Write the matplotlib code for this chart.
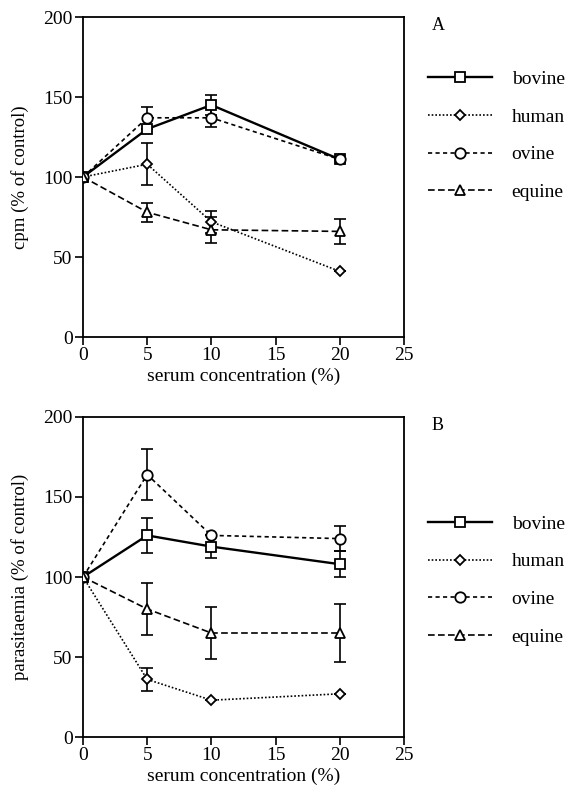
import matplotlib
matplotlib.use("Agg")
import matplotlib.pyplot as plt
import numpy as np

plt.rcParams['font.family'] = ['Liberation Serif', 'DejaVu Serif']

conc = [0, 5, 10, 20]
series = ["bovine", "human", "ovine", "equine"]

# Panel A: cpm (% of control)
a_bovine = [100, 130, 145, 111]
a_bovine_err = [0, 0, 6, 0]
a_human = [100, 108, 72, 41]
a_human_err = [0, 13, 7, 0]
a_ovine = [100, 137, 137, 111]
a_ovine_err = [0, 7, 6, 0]
a_equine = [100, 78, 67, 66]
a_equine_err = [0, 6, 8, 8]

# Panel B: parasitaemia (% of control)
b_bovine = [100, 126, 119, 108]
b_bovine_err = [0, 11, 7, 8]
b_human = [100, 36, 23, 27]
b_human_err = [0, 7, 0, 0]
b_ovine = [100, 164, 126, 124]
b_ovine_err = [0, 16, 0, 8]
b_equine = [100, 80, 65, 65]
b_equine_err = [0, 16, 16, 18]

xticks = [0, 5, 10, 15, 20, 25]
yticks = [0, 50, 100, 150, 200]

styles = {
    "bovine": dict(ls='-', marker='s', ms=7, dashes=None),
    "human": dict(ls=':', marker='D', ms=5, dashes=(1, 1.2)),
    "ovine": dict(ls='--', marker='o', ms=7.5, dashes=(2.5, 2)),
    "equine": dict(ls='--', marker='^', ms=7, dashes=(4, 2)),
}

fig = plt.figure(figsize=(5.66, 7.97), dpi=100)
W, H = 566, 797
axA = fig.add_axes([83 / W, 1 - 337 / H, 321 / W, 320 / H])
axB = fig.add_axes([83 / W, 1 - 737 / H, 321 / W, 320 / H])

panels = [
    (axA, [a_bovine, a_human, a_ovine, a_equine],
     [a_bovine_err, a_human_err, a_ovine_err, a_equine_err],
     "cpm (% of control)", "A", 0.834),
    (axB, [b_bovine, b_human, b_ovine, b_equine],
     [b_bovine_err, b_human_err, b_ovine_err, b_equine_err],
     "parasitaemia (% of control)", "B", 0.694),
]

fs = 14
for ax, vals, errs, ylabel, letter, ly in panels:
    handles = []
    for name, v, e in zip(series, vals, errs):
        st = styles[name]
        lw = 1.7 if name == "bovine" else 1.2
        ax.errorbar(conc, v, yerr=e, fmt='none', ecolor='black',
                    elinewidth=1.2, capsize=4.5, capthick=1.2, zorder=2)
        kw = dict(color='black', lw=lw, marker=st['marker'], ms=st['ms'],
                  mfc='white', mec='black', mew=1.3, label=name, zorder=3)
        line, = ax.plot(conc, v, ls=st['ls'], **kw)
        if st['dashes'] is not None:
            line.set_dashes(st['dashes'])
        handles.append(line)
    ax.set_xlim(0, 25)
    ax.set_ylim(0, 200)
    ax.set_xticks(xticks)
    ax.set_yticks(yticks)
    ax.tick_params(direction='out', length=6, width=1.2, labelsize=fs,
                   top=False, right=False, pad=1.5)
    for sp in ax.spines.values():
        sp.set_linewidth(1.3)
    ax.set_xlabel("serum concentration (%)", fontsize=fs, labelpad=2)
    ax.set_ylabel(ylabel, fontsize=13.5, labelpad=10)
    ax.text(1.087, 1.0, letter, transform=ax.transAxes, fontsize=13,
            ha='left', va='top')
    ax.legend(handles=handles, loc='upper left',
              bbox_to_anchor=(1.075, ly), frameon=False,
              fontsize=14, handlelength=3.3, handletextpad=1.0,
              labelspacing=1.04, borderpad=0, borderaxespad=0)

fig.savefig("out.png", dpi=100)
